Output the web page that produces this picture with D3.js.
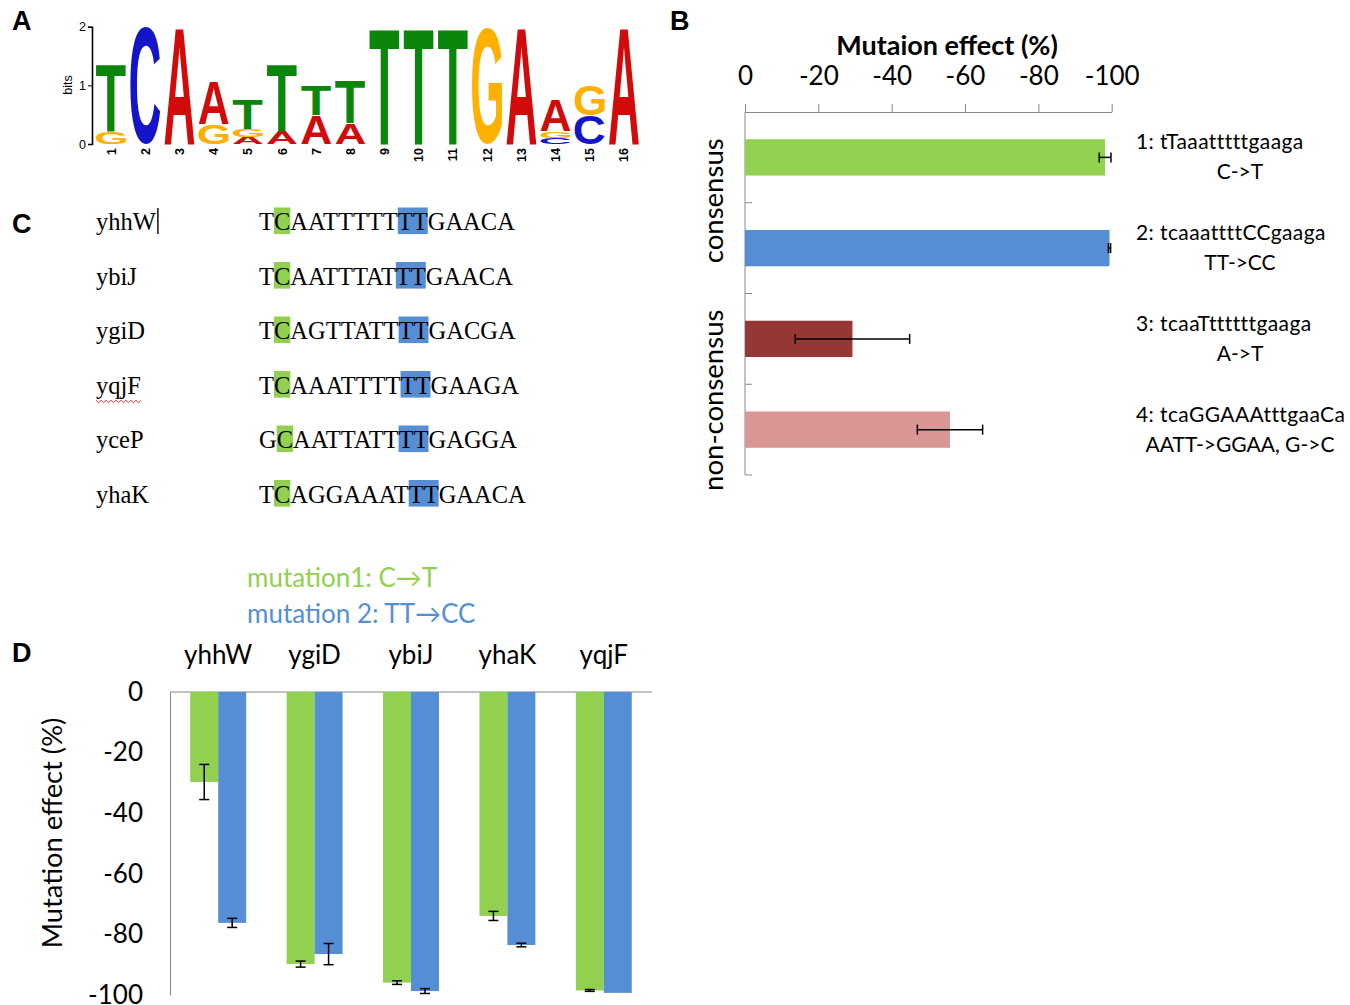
<!DOCTYPE html>
<html>
<head>
<meta charset="utf-8">
<script src="https://cdn.jsdelivr.net/npm/d3@7"></script>
<style>
  body { margin: 0; background: #fff; }
  svg text { font-family: Lato, "Open Sans", sans-serif; }
</style>
</head>
<body>
<svg id="fig" width="1350" height="1005"></svg>
<script>
// ---------- data ----------
// A: sequence logo, information (bits) per base at each position
var logoPositions = d3.range(1, 17);
var bitsA = [0, 0, 2.0, 0.73, 0.12, 0.21, 0.49, 0.36, 0, 0, 0, 0, 2.0, 0.53, 0, 2.0];
var bitsC = [0, 2.0, 0, 0, 0, 0, 0, 0, 0, 0, 0, 0, 0, 0.10, 0.49, 0];
var bitsG = [0.21, 0, 0, 0.34, 0.13, 0, 0, 0, 0, 0, 0, 1.98, 0, 0.12, 0.51, 0];
var bitsT = [1.14, 0, 0, 0, 0.50, 1.14, 0.51, 0.73, 1.98, 1.98, 1.98, 0, 0, 0, 0, 0];
var bitsTicks = [0, 1, 2];

// B: consensus / non-consensus mutations
var mutIds = [1, 2, 3, 4];
var mutSeqs = ["1: tTaaatttttgaaga", "2: tcaaattttCCgaaga", "3: tcaaTttttttgaaga", "4: tcaGGAAAtttgaaCa"];
var mutChanges = ["C->T", "TT->CC", "A->T", "AATT->GGAA, G->C"];
var mutEffect = [-98.2, -99.4, -29.3, -55.9];
var mutError = [1.6, 0.3, 15.6, 8.9];
var groupNames = ["consensus", "non-consensus"];
var groupMembers = [[1, 2], [3, 4]];
var effectTicks = [0, -20, -40, -60, -80, -100];

// C: binding sites
var geneNames = ["yhhW", "ybiJ", "ygiD", "yqjF", "yceP", "yhaK"];
var siteSeqs = ["TCAATTTTTTTGAACA", "TCAATTTATTTGAACA", "TCAGTTATTTTGACGA",
                "TCAAATTTTTTGAAGA", "GCAATTATTTTGAGGA", "TCAGGAAATTTGAACA"];

// D: two mutations in five promoters
var genesD = ["yhhW", "ygiD", "ybiJ", "yhaK", "yqjF"];
var mutNames = ["mutation1: C\u2192T", "mutation 2: TT\u2192CC"];
var mut1Effect = [-29.7, -89.8, -95.9, -73.9, -98.5];
var mut1Error = [5.8, 1.0, 0.6, 1.5, 0.3];
var mut2Effect = [-76.2, -86.5, -98.7, -83.5, -99.3];
var mut2Error = [1.5, 3.5, 0.8, 0.6, 0];

var green = "#92d050", blue = "#558ed5";
var barColorsB = [green, blue, "#953735", "#d99694"];
var baseColor = {A: "#d20a0a", C: "#1414c8", G: "#ffb000", T: "#0a870a"};
var axisGrey = "#868686";
var fmt = function(d) { return d === 0 ? "0" : "-" + Math.abs(d); };

var svg = d3.select("#fig");

// panel letters
[["A", 12, 30], ["B", 670, 30], ["C", 12, 233], ["D", 12, 662]].forEach(function(p) {
  svg.append("text").attr("x", p[1]).attr("y", p[2]).text(p[0])
    .style("font-family", "'Liberation Sans', Arial, sans-serif")
    .style("font-weight", "bold").style("font-size", "27px");
});

// ---------- A: logo ----------
var gA = svg.append("g");
var xLogo = d3.scaleBand().domain(logoPositions).range([94, 641])
  .paddingInner(0.12).paddingOuter(0.06);
var yBits = d3.scaleLinear().domain([0, 2]).range([144, 26.7]);

var ctx = document.createElement("canvas").getContext("2d");
ctx.font = "bold 100px 'Liberation Sans'";
var metrics = {};
"ACGT".split("").forEach(function(b) {
  var m = ctx.measureText(b);
  metrics[b] = {l: m.actualBoundingBoxLeft, r: m.actualBoundingBoxRight,
                a: m.actualBoundingBoxAscent, d: m.actualBoundingBoxDescent};
});

logoPositions.forEach(function(pos, i) {
  var stack = [["A", bitsA[i]], ["C", bitsC[i]], ["G", bitsG[i]], ["T", bitsT[i]]]
    .filter(function(s) { return s[1] > 0; })
    .sort(function(a, b) { return a[1] - b[1]; });
  var base = 0;
  stack.forEach(function(s) {
    var m = metrics[s[0]];
    var y0 = yBits(base + s[1]), y1 = yBits(base);
    var bx = xLogo(pos), bw = xLogo.bandwidth(), bh = y1 - y0;
    var sx = bw / (m.l + m.r), sy = bh / (m.a + m.d);
    gA.append("text").text(s[0])
      .attr("transform", "translate(" + bx + "," + y0 + ") scale(" + sx + "," + sy + ") translate(" + m.l + "," + m.a + ")")
      .style("font-family", "'Liberation Sans'").style("font-weight", "bold").style("font-size", "100px")
      .attr("fill", baseColor[s[0]]);
    base += s[1];
  });
});

var axA = gA.append("g").attr("transform", "translate(92,0)")
  .call(d3.axisLeft(yBits).tickValues(bitsTicks).tickSize(4).tickPadding(2).tickFormat(d3.format("d")));
axA.select(".domain").attr("stroke-width", 1.6);
axA.selectAll("text").style("font-family", "'Liberation Sans', Arial").style("font-size", "12.5px");
gA.append("text").attr("transform", "translate(72,85) rotate(-90)")
  .attr("text-anchor", "middle").text("bits")
  .style("font-family", "'Liberation Sans', Arial").style("font-size", "12.5px");

gA.selectAll(".pos").data(logoPositions).enter().append("text")
  .attr("transform", function(d) { return "translate(" + (xLogo(d) + xLogo.bandwidth() / 2 + 4.5) + ",148) rotate(-90)"; })
  .attr("text-anchor", "end").text(function(d) { return d; })
  .style("font-family", "'Liberation Sans', Arial").style("font-weight", "bold").style("font-size", "12.5px");

// ---------- B: horizontal bars ----------
var gB = svg.append("g");
var xB = d3.scaleLinear().domain([0, -100]).range([745, 1111.7]);
var yB = d3.scaleBand().domain(mutIds).range([112, 475]).paddingInner(0.6).paddingOuter(0.3);

gB.append("text").attr("x", 947).attr("y", 55).attr("text-anchor", "middle")
  .style("font-size", "27px").style("font-weight", "bold").text("Mutaion effect (%)");

var axB = gB.append("g").attr("transform", "translate(0,112)")
  .call(d3.axisTop(xB).tickValues(effectTicks).tickSizeInner(8).tickSizeOuter(0).tickPadding(19).tickFormat(fmt));
axB.selectAll("path, line").attr("stroke", axisGrey);
axB.selectAll("text").style("font-size", "26px").attr("fill", "#000");

// vertical category axis with ticks at band boundaries
gB.append("line").attr("x1", 745).attr("x2", 745).attr("y1", 112).attr("y2", 475).attr("stroke", axisGrey);
gB.selectAll(".cattick").data(mutIds).enter().append("line")
  .attr("x1", 745).attr("x2", 752)
  .attr("y1", function(d) { return yB(d) - yB.step() * yB.paddingInner() / 2 + yB.step(); })
  .attr("y2", function(d) { return yB(d) - yB.step() * yB.paddingInner() / 2 + yB.step(); })
  .attr("stroke", axisGrey);

gB.selectAll(".bar").data(mutIds).enter().append("rect")
  .attr("x", xB(0)).attr("y", function(d) { return yB(d); })
  .attr("width", function(d, i) { return xB(mutEffect[i]) - xB(0); })
  .attr("height", yB.bandwidth())
  .attr("fill", function(d, i) { return barColorsB[i]; });

mutIds.forEach(function(d, i) {
  var cy = yB(d) + yB.bandwidth() / 2;
  var xa = xB(mutEffect[i] + mutError[i]), xb = xB(mutEffect[i] - mutError[i]);
  var e = gB.append("g").attr("stroke", "#000").attr("stroke-width", 1.5);
  e.append("line").attr("x1", xa).attr("x2", xb).attr("y1", cy).attr("y2", cy);
  e.append("line").attr("x1", xa).attr("x2", xa).attr("y1", cy - 5).attr("y2", cy + 5);
  e.append("line").attr("x1", xb).attr("x2", xb).attr("y1", cy - 5).attr("y2", cy + 5);
  gB.append("text").attr("x", 1136).attr("y", cy - 8)
    .style("font-size", "21px").style("letter-spacing", "0.4px").text(mutSeqs[i]);
  gB.append("text").attr("x", 1240).attr("y", cy + 22).attr("text-anchor", "middle")
    .style("font-size", "21px").text(mutChanges[i]);
});

groupNames.forEach(function(name, gi) {
  var m = groupMembers[gi];
  var cy = (yB(m[0]) + yB(m[m.length - 1]) + yB.bandwidth()) / 2 + (gi === 1 ? 16 : -2);
  gB.append("text").attr("transform", "translate(723," + cy + ") rotate(-90)")
    .attr("text-anchor", "middle").style("font-size", "27.5px").text(name);
});

// ---------- C: sequences ----------
var gC = svg.append("g");
var rowY = d3.scalePoint().domain(geneNames).range([230, 502.5]);
var serif = "'Liberation Serif', 'Times New Roman', serif";

geneNames.forEach(function(g, i) {
  var by = rowY(g);
  var seqText = gC.append("text").attr("x", 259).attr("y", by)
    .style("font-family", serif).style("font-size", "24.5px").text(siteSeqs[i]);
  var node = seqText.node();
  var c1 = node.getExtentOfChar(1), t1 = node.getExtentOfChar(9), t2 = node.getExtentOfChar(10);
  gC.insert("rect", ":first-child").attr("x", c1.x).attr("y", by - 22.5)
    .attr("width", c1.width).attr("height", 26.6).attr("fill", green);
  gC.insert("rect", ":first-child").attr("x", t1.x).attr("y", by - 22.5)
    .attr("width", t2.x + t2.width - t1.x).attr("height", 26.6).attr("fill", blue);
  var name = gC.append("text").attr("x", 96).attr("y", by)
    .style("font-family", serif).style("font-size", "24.5px").text(g);
  var w = name.node().getComputedTextLength();
  if (g === "yhhW") {
    gC.append("line").attr("x1", 96 + w + 2).attr("x2", 96 + w + 2)
      .attr("y1", by - 22).attr("y2", by + 4).attr("stroke", "#222").attr("stroke-width", 1.6);
  }
  if (g === "yqjF") {
    var pts = d3.range(96, 96 + w + 1, 2.5).map(function(x, k) { return [x, by + 8 + (k % 2 ? 1.2 : -1.2)]; });
    gC.append("path").attr("d", d3.line()(pts)).attr("fill", "none")
      .attr("stroke", "#e03030").attr("stroke-width", 1);
  }
});

// ---------- D: grouped column chart ----------
var gD = svg.append("g");
var xD = d3.scaleBand().domain(genesD).range([170, 652]).paddingInner(0.42).paddingOuter(0.21);
var xSub = d3.scaleBand().domain([0, 1]).range([0, xD.bandwidth()]);
var yD = d3.scaleLinear().domain([-100, 0]).range([995, 692]);

gD.selectAll(".leg").data(mutNames).enter().append("text")
  .attr("x", 247).attr("y", function(d, i) { return 587 + i * 36; })
  .attr("fill", function(d, i) { return i ? blue : green; })
  .style("font-size", "26px").text(function(d) { return d; });

gD.selectAll(".cat").data(genesD).enter().append("text")
  .attr("x", function(d) { return xD(d) + xD.bandwidth() / 2; }).attr("y", 664)
  .attr("text-anchor", "middle").style("font-size", "26px").text(function(d) { return d; });

var axD = gD.append("g").attr("transform", "translate(170,0)")
  .call(d3.axisLeft(yD).tickValues(effectTicks).tickSize(0).tickPadding(27).tickFormat(fmt));
axD.select(".domain").attr("stroke", axisGrey);
axD.selectAll("text").style("font-size", "26px").attr("fill", "#000");
gD.append("line").attr("x1", 170).attr("x2", 652).attr("y1", 692).attr("y2", 692).attr("stroke", axisGrey);

gD.append("text").attr("transform", "translate(62,833) rotate(-90)").attr("text-anchor", "middle")
  .style("font-size", "27.3px").text("Mutation effect (%)");

[[mut1Effect, mut1Error, green], [mut2Effect, mut2Error, blue]].forEach(function(s, k) {
  genesD.forEach(function(g, i) {
    var x0 = xD(g) + xSub(k), w = xSub.bandwidth();
    gD.append("rect").attr("x", x0).attr("y", yD(0)).attr("width", w)
      .attr("height", yD(s[0][i]) - yD(0)).attr("fill", s[2]);
    if (s[1][i] > 0) {
      var cx = x0 + w / 2, ya = yD(s[0][i] + s[1][i]), yb = yD(s[0][i] - s[1][i]);
      var e = gD.append("g").attr("stroke", "#000").attr("stroke-width", 1.5);
      e.append("line").attr("x1", cx).attr("x2", cx).attr("y1", ya).attr("y2", yb);
      e.append("line").attr("x1", cx - 5).attr("x2", cx + 5).attr("y1", ya).attr("y2", ya);
      e.append("line").attr("x1", cx - 5).attr("x2", cx + 5).attr("y1", yb).attr("y2", yb);
    }
  });
});
</script>
</body>
</html>
